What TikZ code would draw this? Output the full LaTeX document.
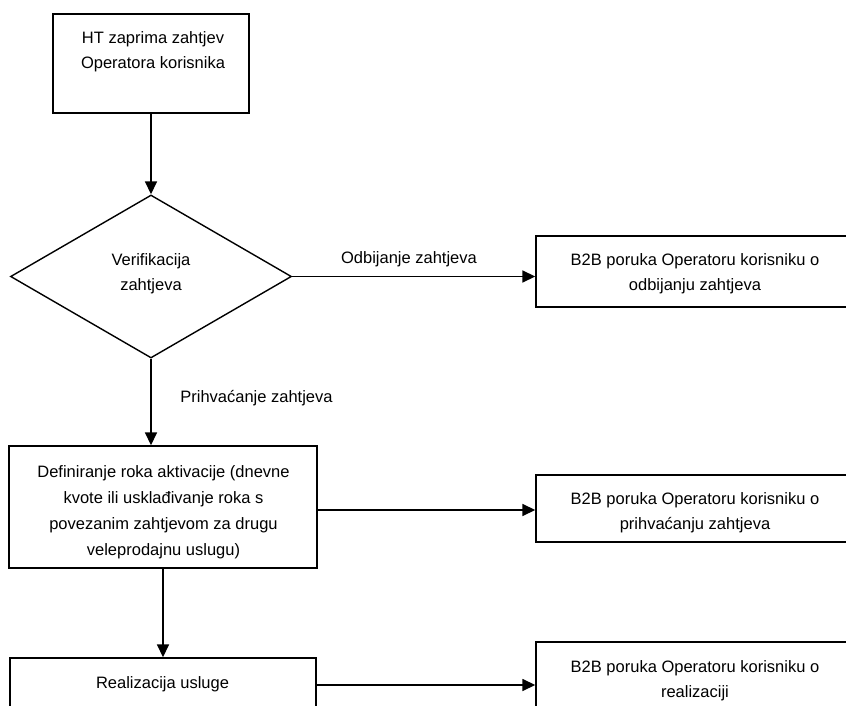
\documentclass[tikz,border=0pt]{standalone}
\usepackage{fontspec}
\setmainfont{Liberation Sans}
\usetikzlibrary{arrows.meta,shapes.geometric}
\begin{document}
\begin{tikzpicture}[x=1pt,y=-1pt,
  box/.style={draw,line width=1.4pt,inner sep=0pt,minimum width=#1},
  txt/.style={align=center,inner sep=0pt,font=\fontsize{16.5}{25}\selectfont},
  txtb/.style={align=center,inner sep=0pt,font=\fontsize{16.5}{26}\selectfont},
  arr/.style={line width=1.6pt,-{Triangle[length=13pt,width=12pt]}}]
\useasboundingbox (0,0) rectangle (846,706);
% boxes
\node[box=196pt,minimum height=99pt] (n1) at (151,63.5) {};
\node[txt] (t1) at (153,52) {HT zaprima zahtjev\\Operatora korisnika};
\node[draw,line width=1.4pt,diamond,inner sep=0pt,minimum width=281pt,minimum height=163pt] (d) at (151,276.5) {};
\node[txt] (td) at (151,274) {Verifikacija\\zahtjeva};
\node[box=318pt,minimum height=71pt] (b1) at (695,271.5) {};
\node[txt] (tb1) at (695,274) {B2B poruka Operatoru korisniku o\\odbijanju zahtjeva};
\node[box=308pt,minimum height=122pt] (b3) at (163,507) {};
\node[txtb] (tb3) at (163.5,512) {Definiranje roka aktivacije (dnevne\\kvote ili usklađivanje roka s\\povezanim zahtjevom za drugu\\veleprodajnu uslugu)};
\node[box=318pt,minimum height=67pt] (b2) at (695,508.5) {};
\node[txt] (tb2) at (695,513) {B2B poruka Operatoru korisniku o\\prihvaćanju zahtjeva};
\node[box=306pt,minimum height=52pt] (b4) at (163,684) {};
\node[txt] (tb4) at (162.5,684) {Realizacija usluge};
\node[box=318pt,minimum height=78pt] (b5) at (695,681) {};
\node[txt] (tb5) at (695,681) {B2B poruka Operatoru korisniku o\\realizaciji};
% labels
\node[txt] (l1) at (409,259) {Odbijanje zahtjeva};
\node[txt] (l2) at (256.5,398) {Prihvaćanje zahtjeva};
% connectors
\draw[arr] (n1.south) -- (d.north);
\draw[arr] (d.east) -- (d.east -| b1.west);
\draw[arr] (d.south) -- (d.south |- b3.north);
\draw[arr] ([yshift=-3pt]b3.east) coordinate (a3) -- (a3 -| b2.west);
\draw[arr] (b3.south) -- (b3.south |- b4.north);
\draw[arr] ([yshift=-1pt]b4.east) coordinate (a4) -- (a4 -| b5.west);
\end{tikzpicture}
\end{document}
